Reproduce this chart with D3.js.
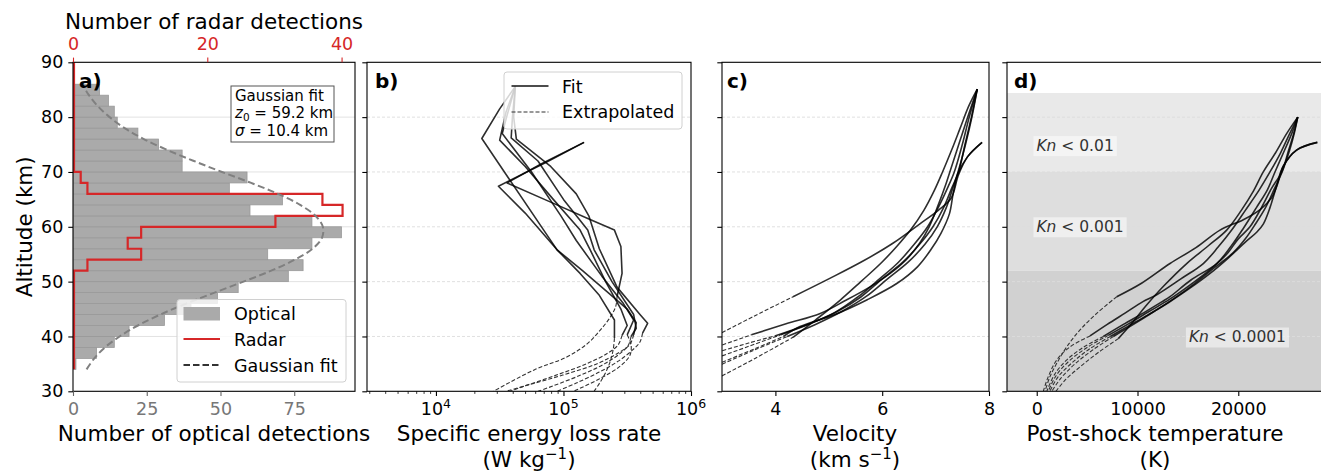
<!DOCTYPE html>
<html>
<head>
<meta charset="utf-8">
<script src="https://cdn.jsdelivr.net/npm/d3@7"></script>
<style>
  html, body { margin: 0; padding: 0; background: #fff; }
  svg { display: block; }
</style>
</head>
<body>
<svg id="chart" width="1321" height="473"></svg>
<script>
// ---- data ----
const altTicks = [30, 40, 50, 60, 70, 80, 90];
const optTicks = [0, 25, 50, 75];
const radarTicks = [0, 20, 40];
const energyTicks = [1e4, 1e5, 1e6];
const velTicks = [4, 6, 8];
const tempTicks = [0, 10000, 20000];

// optical histogram, 2 km bins (lower edges), counts
const optLow = [34, 36, 38, 40, 42, 44, 46, 48, 50, 52, 54, 56, 58, 60, 62, 64, 66, 68, 70, 72, 74, 76, 78, 80, 82, 84];
const optCounts = [1, 8, 14, 19, 31, 40, 49, 56, 73, 78, 66, 81, 91, 81, 60, 71, 53, 59, 37, 37, 29, 22, 15, 14, 12, 9];

// radar histogram (step), 2 km bins from 34 to 90 km
const radarLow = [34, 36, 38, 40, 42, 44, 46, 48, 50, 52, 54, 56, 58, 60, 62, 64, 66, 68, 70, 72, 74, 76, 78, 80, 82, 84, 86, 88];
const radarCounts = [0, 0, 0, 0, 0, 0, 0, 0, 0, 2, 10, 8, 10, 30, 40, 37, 2, 1, 0, 0, 0, 0, 0, 0, 0, 0, 0, 0];

// gaussian fit curve (z0 = 59.2 km, sigma = 10.4 km), sampled
const gaussAlt = [34, 36, 38, 40, 42, 44, 46, 48, 50, 52, 54, 56, 58, 60, 62, 64, 66, 68, 70, 72, 74, 76, 78, 80, 82, 84, 86];
const gaussCount = [4.6, 7.2, 10.8, 15.8, 22, 29.6, 38.4, 48, 57.8, 67.2, 75.2, 81.2, 84.4, 84.7, 82.2, 77, 69.5, 60.4, 50.5, 41, 32, 24, 17.5, 12.4, 8.4, 5.4, 3.2];

// meteors: B, C, D, E, F, G, H  -- [value, altitude km]
const energyFit = [
  [[1.45e5, 75.4], [6.61e4, 71.4], [3.61e4, 68.0], [7.94e4, 64.5], [1.55e5, 61.5], [2.51e5, 59.4], [2.82e5, 56.4], [2.88e5, 51.5], [2.63e5, 47.25]],
  [[4.19e4, 85.6], [3.55e4, 81], [3.16e4, 75.8], [5.01e4, 71], [8.32e4, 65], [1.35e5, 59.4], [1.62e5, 55.8], [2.14e5, 50], [2.82e5, 45], [3.16e5, 42], [2.88e5, 40.2]],
  [[4.19e4, 85.6], [3.98e4, 80], [3.89e4, 76.2], [6.31e4, 72], [1.0e5, 65], [1.55e5, 59.4], [1.74e5, 55.8], [2.40e5, 50], [3.55e5, 44], [3.72e5, 41.5], [3.39e5, 40.0]],
  [[4.19e4, 85.6], [3.16e4, 81.5], [2.29e4, 76.1], [3.68e4, 69], [7.0e4, 59.4], [8.91e4, 55.8], [1.35e5, 51.5], [1.91e5, 47.5], [2.51e5, 43.0], [2.51e5, 39.7]],
  [[4.19e4, 85.6], [4.07e4, 80], [4.27e4, 76], [7.94e4, 71], [1.26e5, 66], [1.58e5, 62], [1.91e5, 56], [2.63e5, 49], [3.98e5, 44], [4.57e5, 42.4], [4.17e5, 40.6]],
  [[1.45e5, 75.4], [7.08e4, 71.6], [3.09e4, 67.4], [5.01e4, 62.5], [8.91e4, 55.8], [1.41e5, 52], [2.24e5, 48], [3.16e5, 45], [3.72e5, 42.5], [3.55e5, 40.3]],
  [[4.19e4, 85.6], [3.63e4, 80.5], [3.31e4, 77], [5.62e4, 70], [9.55e4, 62], [1.26e5, 57.5], [2.0e5, 51], [2.95e5, 46], [3.55e5, 43], [3.16e5, 40.3]]
];
const energyExt = [
  [[2.63e5, 47.25], [2.57e5, 45.5], [2.34e5, 43.6], [1.95e5, 41.2], [1.55e5, 38.75], [1.07e5, 36.3], [5.89e4, 33.9], [2.82e4, 30]],
  [[2.88e5, 40.2], [2.69e5, 38.5], [2.24e5, 37], [1.51e5, 35], [8.91e4, 33], [5.01e4, 31], [3.8e4, 30]],
  [[3.39e5, 40.0], [3.24e5, 38.5], [2.82e5, 37], [2.09e5, 35], [1.38e5, 33], [8.32e4, 31], [6.31e4, 30]],
  [[2.51e5, 39.7], [2.45e5, 37.5], [2.29e5, 35], [2.04e5, 32.5], [1.74e5, 30]],
  [[4.17e5, 40.6], [3.98e5, 39], [3.47e5, 37.5], [2.69e5, 35.5], [1.91e5, 33.5], [1.26e5, 31.5], [8.91e4, 30]],
  [[3.55e5, 40.3], [3.31e5, 38.5], [2.69e5, 37], [1.82e5, 35], [1.0e5, 33], [5.01e4, 31], [3.55e4, 30]],
  [[3.16e5, 40.3], [3.39e5, 38.5], [3.31e5, 36.5], [2.75e5, 34.5], [2.0e5, 32.5], [1.2e5, 30]]
];

const velocityFit = [
  [[4.33, 47.25], [5.0, 50.5], [5.65, 53.8], [6.2, 57], [6.7, 60.5], [7.05, 63], [7.29, 65.2], [7.43, 69.5], [7.6, 72.8], [7.87, 75.4]],
  [[3.55, 40.3], [4.2, 42.3], [4.84, 44.2], [5.3, 46.5], [5.78, 49.1], [6.15, 51.5], [6.45, 54], [6.7, 57], [6.88, 60], [7.05, 64], [7.2, 68], [7.3, 71], [7.45, 75.5], [7.6, 80], [7.78, 85.1]],
  [[3.99, 40.1], [4.6, 42.2], [5.1, 44.3], [5.55, 47.25], [5.95, 50.5], [6.3, 53.5], [6.6, 56.8], [6.85, 60], [7.05, 63.5], [7.22, 67], [7.35, 70], [7.5, 75], [7.63, 80], [7.78, 85.1]],
  [[4.33, 39.85], [4.75, 43], [5.21, 46.6], [5.6, 50], [5.97, 53.3], [6.28, 56.5], [6.53, 59.4], [6.78, 63], [6.97, 66.5], [7.13, 70], [7.3, 74], [7.46, 78], [7.62, 82], [7.78, 85.1]],
  [[4.1, 40.3], [4.65, 42.3], [5.15, 44.5], [5.6, 47.2], [6.0, 50.5], [6.38, 53.5], [6.7, 56.8], [6.95, 60], [7.15, 63.5], [7.3, 67], [7.43, 70], [7.55, 75], [7.67, 80], [7.78, 85.1]],
  [[4.15, 40.0], [4.46, 41.8], [5.09, 43.9], [5.72, 46.7], [6.28, 49.7], [6.66, 52.7], [6.91, 55.8], [7.10, 58.8], [7.26, 62.4], [7.33, 66.1], [7.42, 69.7], [7.60, 72.8], [7.87, 75.4]],
  [[4.22, 40.0], [4.75, 42.2], [5.25, 44.6], [5.7, 47.3], [6.1, 50.5], [6.48, 53.5], [6.8, 56.8], [7.03, 60], [7.2, 63.5], [7.32, 67], [7.42, 70], [7.56, 75], [7.68, 80], [7.78, 85.1]]
];
const velocityExt = [
  [[2.9, 40.2], [3.6, 43.7], [4.33, 47.25]],
  [[2.9, 38.1], [3.55, 40.3]],
  [[2.9, 37.1], [3.5, 38.8], [3.99, 40.1]],
  [[2.9, 32.3], [3.6, 35.9], [4.33, 39.85]],
  [[2.9, 36.1], [3.5, 38.2], [4.1, 40.3]],
  [[2.9, 34.9], [3.6, 37.7], [4.15, 40.0]],
  [[2.9, 34.5], [3.6, 37.5], [4.22, 40.0]]
];

const tempFit = [
  [[7937, 47.25], [10400, 49.7], [13224, 53.3], [15800, 56.2], [18185, 59.4], [20500, 61.3], [22200, 63.2], [23300, 65.3], [23900, 67.8], [24464, 71.0], [25794, 74.0], [27844, 75.4]],
  [[5288, 40.1], [7000, 42.2], [8800, 44.3], [10500, 46.3], [11905, 47.6], [14300, 50.5], [16528, 53.3], [18000, 56.3], [19345, 59.4], [20700, 63], [22000, 66.5], [23145, 70], [24200, 73.5], [25100, 77], [25900, 80]],
  [[6607, 40.0], [8600, 42.2], [10600, 44.3], [12400, 46.3], [13224, 47.25], [15300, 50.3], [17857, 53.3], [19300, 56.5], [20496, 59.7], [21800, 63.5], [22900, 66.8], [23641, 70], [24600, 74], [25300, 77], [25900, 80]],
  [[8095, 39.6], [9400, 42.3], [10800, 45.5], [12600, 49.2], [14881, 53.3], [17000, 56.5], [18849, 59.4], [20300, 63], [21500, 66.5], [22480, 70], [23700, 73.5], [24800, 77], [25900, 80]],
  [[7100, 40.2], [9100, 42.3], [11100, 44.5], [13200, 46.8], [15300, 49.5], [17200, 52.2], [18849, 55], [20000, 57.8], [21161, 60], [22300, 63.5], [23300, 67], [24306, 70], [25000, 74], [25500, 77], [25900, 80]],
  [[7300, 40.0], [9000, 41.8], [11000, 43.9], [13100, 46.2], [15200, 48.8], [17200, 51.5], [19000, 54.3], [20700, 57.2], [21825, 59.0], [22480, 60.5], [23145, 63.5], [23780, 67.3], [24440, 71.0], [25770, 74.0], [27844, 75.4]],
  [[7600, 40.0], [9600, 42.2], [11600, 44.5], [13600, 46.9], [15700, 49.7], [17600, 52.5], [19504, 55.3], [20700, 57.8], [21700, 60.5], [22700, 63.5], [23600, 67], [24350, 70], [25100, 74], [25550, 77], [25900, 80]]
];
const tempExt = [
  [[7937, 47.25], [5952, 44.2], [4296, 41.2], [2976, 38.1], [1984, 35.1], [1319, 32.7], [823, 30]],
  [[5288, 40.1], [3303, 38.1], [1984, 35.7], [1151, 32.7], [655, 30]],
  [[6607, 40.0], [4600, 38.0], [2900, 35.6], [1750, 33], [1000, 30]],
  [[8095, 39.6], [6200, 37.2], [4400, 34.6], [2900, 32.2], [1900, 30]],
  [[7100, 40.2], [5000, 38.0], [3200, 35.5], [1900, 32.8], [1150, 30]],
  [[7300, 40.0], [5300, 37.8], [3500, 35.2], [2100, 32.6], [1300, 30]],
  [[7600, 40.0], [5600, 37.6], [3800, 35.0], [2400, 32.4], [1500, 30]]
];

// Knudsen-number regimes in panel d (top, bottom altitude)
const knTop = [84.4, 70, 52];
const knBottom = [70, 52, 30];
const knLabels = ["0.01", "0.001", "0.0001"];

// ---- drawing ----
(function () {
  "use strict";

  const FONT = '"DejaVu Sans", sans-serif';
  const RED = "#d62728";
  const svg = d3.select("#chart").attr("font-family", FONT);

  // plot boxes (pixels)
  const top = 62.3, bottom = 391.3;
  const box = { a: [73, 355], b: [367, 691], c: [722, 989], d: [1007, 1331] };

  const y = d3.scaleLinear().domain([30, 90]).range([bottom, top]);
  const xOpt = d3.scaleLinear().domain([0, 95.6]).range(box.a);
  const xRad = d3.scaleLinear().domain([0, 42]).range(box.a);
  const xE = d3.scaleLog().domain([2.88e3, 1e6]).range(box.b);
  const xV = d3.scaleLinear().domain([3, 8]).range(box.c);
  const xT = d3.scaleLinear().domain([-2950, 29200]).range(box.d);

  const defs = svg.append("defs");
  Object.keys(box).forEach(k => {
    defs.append("clipPath").attr("id", "clip-" + k)
      .append("rect")
      .attr("x", box[k][0]).attr("y", top)
      .attr("width", box[k][1] - box[k][0]).attr("height", bottom - top);
  });

  const layer = k => svg.append("g").attr("clip-path", `url(#clip-${k})`);

  // Kn bands behind everything in d
  const gD = layer("d");
  gD.selectAll("rect.band").data(knTop).join("rect")
    .attr("x", box.d[0]).attr("width", box.d[1] - box.d[0])
    .attr("y", d => y(d))
    .attr("height", (d, i) => y(knBottom[i]) - y(d))
    .attr("fill", (d, i) => ["#e9e9e9", "#dedede", "#d1d1d1"][i]);

  // grids
  const gridAlt = altTicks.slice(1, -1);
  svg.append("g").selectAll("line").data(gridAlt).join("line")
    .attr("x1", box.a[0]).attr("x2", box.a[1])
    .attr("y1", d => y(d)).attr("y2", d => y(d))
    .attr("stroke", "#e2e2e2").attr("stroke-width", 1);
  ["b", "c", "d"].forEach(k => {
    svg.append("g").selectAll("line").data(gridAlt).join("line")
      .attr("x1", box[k][0]).attr("x2", box[k][1])
      .attr("y1", d => y(d)).attr("y2", d => y(d))
      .attr("stroke", "#dcdcdc").attr("stroke-width", 0.9)
      .attr("stroke-dasharray", "3,2");
  });

  // panel a: optical histogram
  const gA = layer("a");
  gA.selectAll("rect.bar").data(optCounts).join("rect")
    .attr("x", xOpt(0))
    .attr("y", (d, i) => y(optLow[i] + 2))
    .attr("width", d => xOpt(d) - xOpt(0))
    .attr("height", (d, i) => y(optLow[i]) - y(optLow[i] + 2))
    .attr("fill", "#aaaaaa")
    .attr("stroke", "#999999").attr("stroke-width", 0.8);

  // radar step outline
  const stepPts = [[0, radarLow[0]]];
  radarCounts.forEach((c, i) => {
    stepPts.push([c, radarLow[i]], [c, radarLow[i] + 2]);
  });
  stepPts.push([0, radarLow[radarLow.length - 1] + 2]);
  gA.append("path")
    .attr("d", d3.line().x(d => xRad(d[0]) + 1).y(d => y(d[1]))(stepPts))
    .attr("fill", "none").attr("stroke", RED).attr("stroke-width", 2.2);

  // gaussian fit
  gA.append("path")
    .attr("d", d3.line().curve(d3.curveCatmullRom)
      .x((d, i) => xOpt(gaussCount[i])).y(d => y(d))(gaussAlt))
    .attr("fill", "none").attr("stroke", "#808080").attr("stroke-width", 2)
    .attr("stroke-dasharray", "7,3.5");

  // meteor curves
  function curves(k, xs, fits, exts, smooth) {
    const g = layer(k);
    const ln = d3.line().x(d => xs(d[0])).y(d => y(d[1]));
    const lnS = d3.line().curve(d3.curveCatmullRom.alpha(0.5)).x(d => xs(d[0])).y(d => y(d[1]));
    g.selectAll("path.ext").data(exts).join("path")
      .attr("d", d => lnS(d))
      .attr("fill", "none").attr("stroke", "#333").attr("stroke-width", 1.1)
      .attr("stroke-dasharray", "4,2");
    g.selectAll("path.fit").data(fits).join("path")
      .attr("d", d => (smooth ? lnS : ln)(d))
      .attr("fill", "none").attr("stroke", "#000").attr("stroke-opacity", 0.82)
      .attr("stroke-width", 1.6).attr("stroke-linejoin", "round");
    return g;
  }
  curves("b", xE, energyFit, energyExt, false);
  curves("c", xV, velocityFit, velocityExt, true);
  const gDc = curves("d", xT, tempFit, tempExt, true);

  // Kn labels
  const knAnchor = [[-30, 73.8], [-30, 59.0], [15100, 38.9]];
  knLabels.forEach((t, i) => {
    const g = gDc.append("g");
    const txt = g.append("text")
      .attr("x", xT(knAnchor[i][0])).attr("y", y(knAnchor[i][1]))
      .attr("font-size", 15.5).attr("fill", "#333");
    txt.append("tspan").attr("font-style", "italic").text("Kn");
    txt.append("tspan").text(" < " + t);
    const bb = txt.node().getBBox();
    g.insert("rect", "text")
      .attr("x", bb.x - 3).attr("y", bb.y - 1)
      .attr("width", bb.width + 6).attr("height", bb.height + 2)
      .attr("fill", "#fff").attr("fill-opacity", 0.5);
  });

  // spines
  Object.keys(box).forEach(k => {
    svg.append("rect")
      .attr("x", box[k][0]).attr("y", top)
      .attr("width", box[k][1] - box[k][0]).attr("height", bottom - top)
      .attr("fill", "none").attr("stroke", "#000").attr("stroke-width", 1.1);
  });

  // axes
  function styleAxis(g, color, size) {
    g.select(".domain").remove();
    g.attr("font-family", FONT);
    g.selectAll(".tick line").attr("stroke", color).attr("stroke-width", 1.1);
    g.selectAll(".tick text").attr("font-size", size || 17.5).attr("fill", color);
    return g;
  }

  styleAxis(svg.append("g").attr("transform", `translate(${box.a[0]},0)`)
    .call(d3.axisLeft(y).tickValues(altTicks).tickSize(4.7).tickPadding(5)), "#000");
  ["b", "c", "d"].forEach(k => {
    styleAxis(svg.append("g").attr("transform", `translate(${box[k][0]},0)`)
      .call(d3.axisLeft(y).tickValues(altTicks).tickSize(4.7).tickFormat("")), "#000");
  });

  const gBot = styleAxis(svg.append("g").attr("transform", `translate(0,${bottom})`)
    .call(d3.axisBottom(xOpt).tickValues(optTicks).tickSize(4.7).tickPadding(6.6)), "#666");
  gBot.selectAll(".tick text").attr("fill", "#777");

  styleAxis(svg.append("g").attr("transform", `translate(0,${top})`)
    .call(d3.axisTop(xRad).tickValues(radarTicks).tickSize(4.7).tickPadding(7.6)), RED);

  // log axis b: majors with superscript labels, minors without
  styleAxis(svg.append("g").attr("transform", `translate(0,${bottom})`)
    .call(d3.axisBottom(xE).tickValues(energyTicks).tickSize(4.7).tickFormat("")), "#000");
  const minors = [];
  [3, 4, 5].forEach(p => d3.range(2, 10).forEach(m => {
    const v = m * Math.pow(10, p);
    if (v >= 2.88e3 && v < 1e6) minors.push(v);
  }));
  styleAxis(svg.append("g").attr("transform", `translate(0,${bottom})`)
    .call(d3.axisBottom(xE).tickValues(minors).tickSize(2.6).tickFormat("")), "#000")
    .selectAll(".tick line").attr("stroke-width", 0.8);
  energyTicks.forEach(v => {
    const t = svg.append("text").attr("x", xE(v)).attr("y", 415)
      .attr("text-anchor", "middle").attr("font-size", 17.5);
    t.append("tspan").text("10");
    t.append("tspan").attr("dy", -7).attr("font-size", 12.5).text(Math.round(Math.log10(v)));
  });

  styleAxis(svg.append("g").attr("transform", `translate(0,${bottom})`)
    .call(d3.axisBottom(xV).tickValues(velTicks).tickSize(4.7).tickPadding(6.6).tickFormat(d3.format("d"))), "#000");
  styleAxis(svg.append("g").attr("transform", `translate(0,${bottom})`)
    .call(d3.axisBottom(xT).tickValues(tempTicks).tickSize(4.7).tickPadding(6.6).tickFormat(d3.format("d"))), "#000");

  // axis titles
  const LBL = 21.5;
  function label(x, yy, txt) {
    return svg.append("text").attr("x", x).attr("y", yy)
      .attr("text-anchor", "middle").attr("font-size", LBL).attr("fill", "#000").text(txt);
  }
  svg.append("text")
    .attr("transform", `translate(31.5,${(top + bottom) / 2}) rotate(-90)`)
    .attr("text-anchor", "middle").attr("font-size", LBL).text("Altitude (km)");
  label(214, 29, "Number of radar detections");
  label(214, 441, "Number of optical detections");
  label(529, 441, "Specific energy loss rate");
  label(855, 441, "Velocity");
  label(1155, 441, "Post-shock temperature");
  label(1155, 467, "(K)");
  function unitLabel(x, pre, exp, post) {
    const t = svg.append("text").attr("x", x).attr("y", 467)
      .attr("text-anchor", "middle").attr("font-size", LBL);
    t.append("tspan").text(pre);
    t.append("tspan").attr("dy", -8).attr("font-size", 15).text(exp);
    t.append("tspan").attr("dy", 8).text(post);
  }
  unitLabel(529, "(W kg", "\u22121", ")");
  unitLabel(855, "(km s", "\u22121", ")");

  // panel letters
  [["a)", 79], ["b)", 375], ["c)", 727], ["d)", 1014]].forEach(p => {
    svg.append("text").attr("x", p[1]).attr("y", 88)
      .attr("font-size", 20).attr("font-weight", "bold").text(p[0]);
  });

  // gaussian fit text box
  const gBox = svg.append("g");
  gBox.append("rect").attr("x", 231).attr("y", 86).attr("width", 103).attr("height", 56)
    .attr("fill", "#fff").attr("stroke", "#555").attr("stroke-width", 1);
  gBox.append("text").attr("x", 235).attr("y", 100.5).attr("font-size", 15).text("Gaussian fit");
  const z0 = gBox.append("text").attr("x", 235).attr("y", 118).attr("font-size", 15);
  z0.append("tspan").attr("font-style", "italic").text("z");
  z0.append("tspan").attr("font-size", 10.5).attr("dy", 2.5).text("0");
  z0.append("tspan").attr("dy", -2.5).text(" = 59.2 km");
  const sg = gBox.append("text").attr("x", 235).attr("y", 136).attr("font-size", 15);
  sg.append("tspan").attr("font-style", "italic").text("\u03c3");
  sg.append("tspan").text(" = 10.4 km");

  // legend a
  const gLa = svg.append("g");
  gLa.append("rect").attr("x", 177).attr("y", 299.5).attr("width", 169).attr("height", 82.5)
    .attr("rx", 3).attr("fill", "#fff").attr("fill-opacity", 0.8)
    .attr("stroke", "#d0d0d0").attr("stroke-width", 1);
  gLa.append("rect").attr("x", 183.5).attr("y", 307).attr("width", 36.5).attr("height", 13.5)
    .attr("fill", "#aaaaaa");
  gLa.append("line").attr("x1", 183.5).attr("x2", 220).attr("y1", 339).attr("y2", 339)
    .attr("stroke", RED).attr("stroke-width", 2.2);
  gLa.append("line").attr("x1", 183.5).attr("x2", 220).attr("y1", 365).attr("y2", 365)
    .attr("stroke", "#333").attr("stroke-width", 1.8).attr("stroke-dasharray", "6.5,3");
  [["Optical", 319.5], ["Radar", 345.5], ["Gaussian fit", 371.5]].forEach(e => {
    gLa.append("text").attr("x", 234).attr("y", e[1]).attr("font-size", 17.5).text(e[0]);
  });

  // legend b
  const gLb = svg.append("g");
  gLb.append("rect").attr("x", 504).attr("y", 72).attr("width", 178).attr("height", 57)
    .attr("rx", 3).attr("fill", "#fff").attr("fill-opacity", 0.8)
    .attr("stroke", "#d0d0d0").attr("stroke-width", 1);
  gLb.append("line").attr("x1", 511.5).attr("x2", 548.5).attr("y1", 86).attr("y2", 86)
    .attr("stroke", "#111").attr("stroke-width", 1.6);
  gLb.append("line").attr("x1", 511.5).attr("x2", 548.5).attr("y1", 112).attr("y2", 112)
    .attr("stroke", "#333").attr("stroke-width", 1.1).attr("stroke-dasharray", "4,2");
  [["Fit", 92.5], ["Extrapolated", 118]].forEach(e => {
    gLb.append("text").attr("x", 562).attr("y", e[1]).attr("font-size", 17.5).text(e[0]);
  });
})();
</script>
</body>
</html>
